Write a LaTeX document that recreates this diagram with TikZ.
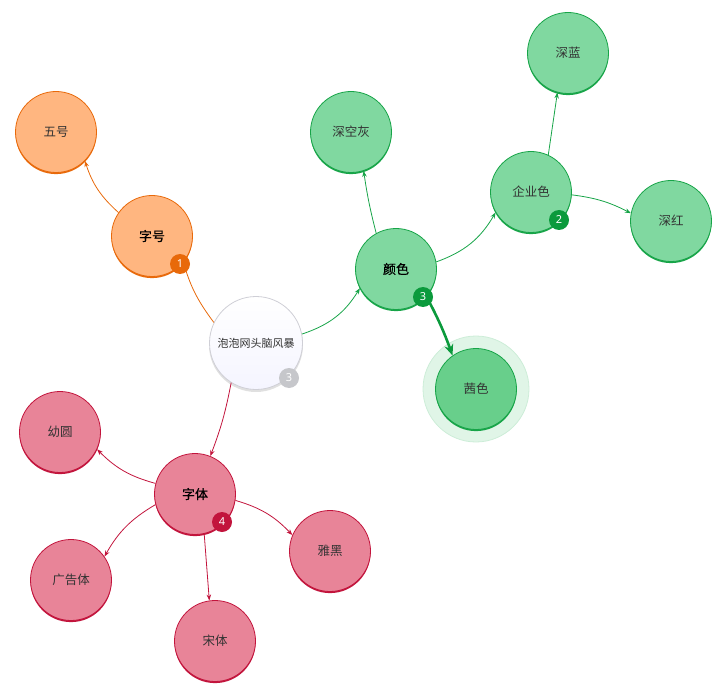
\documentclass[tikz,border=0pt]{standalone}
\usepackage{fontspec}
\newfontfamily\cjk{Noto Sans CJK SC}
\newfontfamily\cjkb{Noto Sans CJK SC}[FakeBold=0.6]
\newfontfamily\numfont{Noto Sans}
\usetikzlibrary{arrows.meta}
\definecolor{orF}{HTML}{FFB680}
\definecolor{orD}{HTML}{E8690A}
\definecolor{grF}{HTML}{80D8A0}
\definecolor{grQ}{HTML}{68CF8B}
\definecolor{grD}{HTML}{17A448}
\definecolor{grB}{HTML}{0B9A3C}
\definecolor{grH}{HTML}{E0F5E7}
\definecolor{grHD}{HTML}{CDEDD8}
\definecolor{pkF}{HTML}{E88498}
\definecolor{pkD}{HTML}{C2143C}
\definecolor{gyD}{HTML}{CFCFD6}
\definecolor{gyB}{HTML}{C6C7CB}
\definecolor{txt}{HTML}{333333}
\tikzset{
  bub/.style={circle, minimum size=81pt, inner sep=0pt, line width=0.8pt, font=\cjk\fontsize{12.5}{14}\selectfont, text=txt},
  orn/.style={bub, fill=orF, draw=orD},
  grn/.style={bub, fill=grF, draw=grD},
  pkn/.style={bub, fill=pkF, draw=pkD},
  lvl/.style={font=\cjkb\fontsize{13}{14}\selectfont, text=black},
  badge/.style={circle, minimum size=20pt, inner sep=0pt, text=white, font=\numfont\fontsize{11}{12}\selectfont},
  con/.style={line width=0.8pt, -{Stealth[length=6pt,width=4.5pt]}},
}
\newcommand{\shad}[4]{\fill[#1] (#2,#3+1.6) circle (#4);}
\begin{document}
\begin{tikzpicture}[x=1pt,y=-1pt]
\useasboundingbox (0,0) rectangle (727,692);
% shadows
\shad{orD}{56}{132}{40.5}
\shad{orD}{152}{236}{40.5}
\shad{grD}{351}{132}{40.5}
\shad{grD}{568}{53}{40.5}
\shad{grD}{531}{192}{40.5}
\shad{grD}{671}{221}{40.5}
\shad{grD}{396}{269}{40.5}
\shad{pkD}{60}{432}{40.5}
\shad{pkD}{195}{494}{40.5}
\shad{pkD}{71}{580}{40.5}
\shad{pkD}{215}{641}{40.5}
\shad{pkD}{330}{551}{40.5}
\fill[black!12] (256,345) circle (47);
% halo
\fill[grH, draw=grHD, line width=0.8pt] (476,389) circle (53);
\fill[grD] (476,390.6) circle (40.5);
% nodes
\node[bub, minimum size=93pt, draw=gyD, top color=white, bottom color=blue!4!white, font=\cjk\fontsize{11}{13}\selectfont] (c) at (256,343) {泡泡网头脑风暴};
\node[orn, lvl] (zh) at (152,236) {字号};
\node[orn] (wh) at (56,132) {五号};
\node[grn, lvl] (ys) at (396,269) {颜色};
\node[grn] (skh) at (351,132) {深空灰};
\node[grn] (qy) at (531,192) {企业色};
\node[grn] (sl) at (568,53) {深蓝};
\node[grn] (sh) at (671,221) {深红};
\node[bub, fill=grQ, draw=grD] (qs) at (476,389) {茜色};
\node[pkn, lvl] (zt) at (195,494) {字体};
\node[pkn] (yy) at (60,432) {幼圆};
\node[pkn] (gg) at (71,580) {广告体};
\node[pkn] (st) at (215,641) {宋体};
\node[pkn] (yh) at (330,551) {雅黑};
% connectors
\draw[con, orD] (c.154) to[bend left=10] (zh.-40);
\draw[con, orD] (zh.145) to[bend left=15] (wh.-45);
\draw[con, grD] (c.11) to[bend right=20] (ys.-152);
\draw[con, grD] (ys.119) to[bend left=3] (skh.-72);
\draw[con, grD] (ys.10) to[bend right=20] (qy.-150);
\draw[con, grD] (qy.65) to (sl.-105);
\draw[con, grD] (qy.-4) to[bend left=10] (sh.169);
\draw[grB, line width=2.6pt, -{Stealth[length=11pt,width=9pt]}] (ys.-42) to[bend left=4] (qs.125);
\draw[con, pkD] (c.-122) to[bend left=5] (zt.68);
\draw[con, pkD] (zt.165) to[bend left=15] (yy.-25);
\draw[con, pkD] (zt.195) to[bend right=15] (gg.35);
\draw[con, pkD] (zt.-77) to (st.98);
\draw[con, pkD] (zt.-9) to[bend left=15] (yh.157);
% badges
\node[badge, fill=orD] (b1) at (180,264) {1};
\node[badge, fill=grB] (b2) at (559,220) {2};
\node[badge, fill=grB] (b3) at (423,297) {3};
\node[badge, fill=gyB] (b0) at (289,378) {3};
\node[badge, fill=pkD] (b4) at (222,522) {4};
\end{tikzpicture}
\end{document}
